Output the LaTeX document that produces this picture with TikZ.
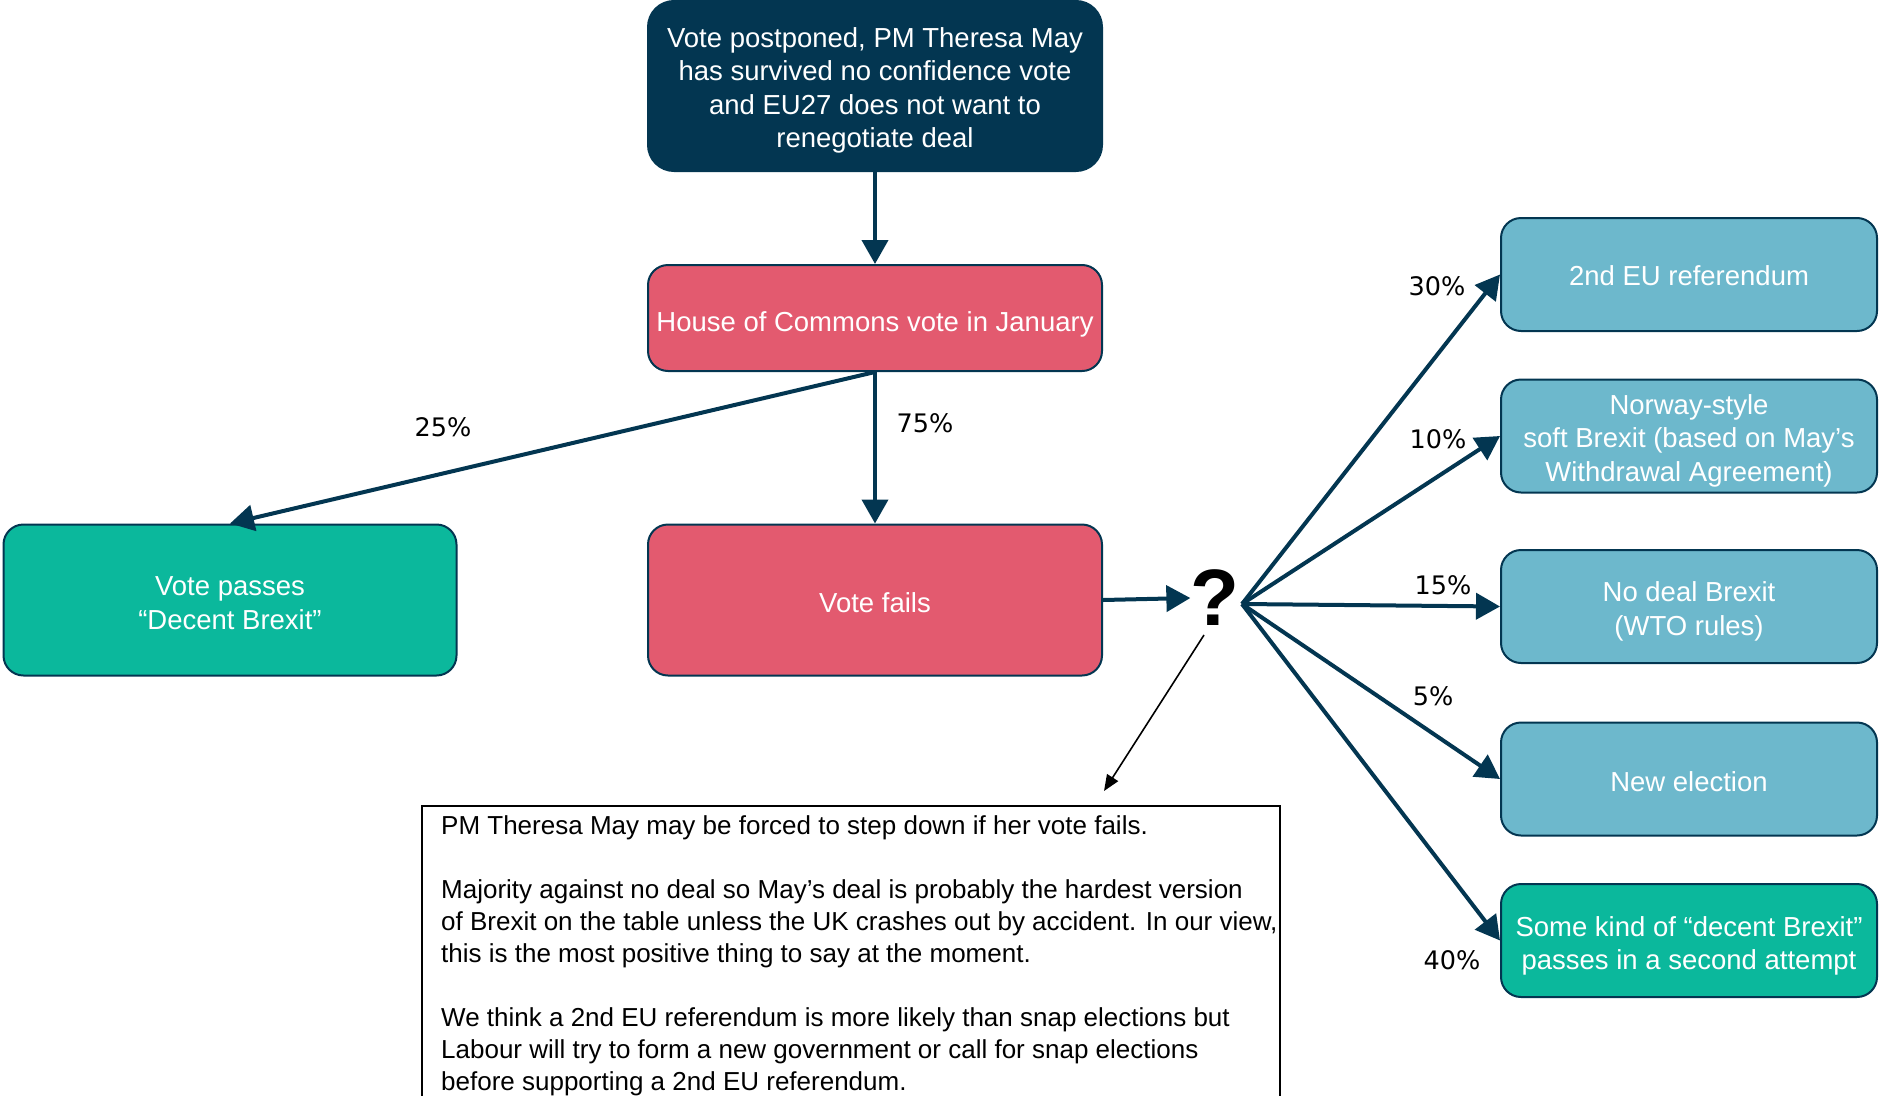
\documentclass[tikz,border=0pt]{standalone}
\usepackage{fontspec}
\setmainfont{Liberation Sans}
\newfontfamily\pctfont{DejaVu Sans}
\usetikzlibrary{arrows.meta}
\definecolor{navy}{HTML}{033651}
\definecolor{pinkred}{HTML}{E35A6F}
\definecolor{tealg}{HTML}{0BB89C}
\definecolor{lblue}{HTML}{6DB8CC}
\tikzset{
  box/.style={draw=navy, line width=2pt, rounded corners=20pt, text=white, align=center,
    font=\fontsize{27.5}{33.5}\selectfont, inner sep=0pt},
  conn/.style={draw=navy, line width=4pt, -{Triangle[length=24pt,width=26pt]}},
  thinarr/.style={draw=black, line width=1.6pt, -{Triangle[length=16pt,width=13pt]}},
  pct/.style={font=\pctfont\fontsize{25.5}{30}\selectfont, text=black},
}
\begin{document}
\begin{tikzpicture}[x=1pt,y=-1pt]
\useasboundingbox (0,0) rectangle (1879,1095);
\node[box, fill=navy, rounded corners=26pt, minimum width=454pt, minimum height=170pt] (top) at (875,86)
  {Vote postponed, PM Theresa May\\has survived no confidence vote\\and EU27 does not want to\\renegotiate deal\\[-36.8pt]};
\node[box, fill=pinkred, minimum width=454pt, minimum height=106pt, text height=26pt, text depth=0pt] (hoc) at (875,318) {House of Commons vote in January};
\node[box, fill=tealg, minimum width=453pt, minimum height=151pt] (vp) at (230,600) {Vote passes\\“Decent Brexit”\\[-39.5pt]};
\node[box, fill=pinkred, minimum width=454pt, minimum height=151pt, text height=24.8pt, text depth=0pt] (vf) at (875,600) {Vote fails};
\node[font=\bfseries\fontsize{80}{80}\selectfont, inner sep=0pt] (q) at (1215,598) {?};
\node[box, fill=lblue, minimum width=376pt, minimum height=113pt, text height=22.4pt, text depth=0pt] (r1) at (1689,274.5) {2nd EU referendum};
\node[box, fill=lblue, minimum width=376pt, minimum height=113pt] (r2) at (1689,436) {Norway-style\\soft Brexit (based on May’s\\Withdrawal Agreement)\\[-37.1pt]};
\node[box, fill=lblue, minimum width=376pt, minimum height=113pt] (r3) at (1689,606.5) {No deal Brexit\\(WTO rules)\\[-37.1pt]};
\node[box, fill=lblue, minimum width=376pt, minimum height=113pt, text height=24.4pt, text depth=0pt] (r4) at (1689,779) {New election};
\node[box, fill=tealg, minimum width=376pt, minimum height=113pt] (r5) at (1689,940.5) {Some kind of “decent Brexit”\\passes in a second attempt\\[-38.5pt]};

\coordinate (qs) at (1242,604);
\coordinate (ns) at (1204,635);
\coordinate (ne) at (1104,791);

\draw[conn] (top) -- (hoc);
\draw[conn] (hoc.south) -- (vp.north);
\draw[conn] (hoc.south) -- (vf.north);
\draw[conn] (vf.east) -- (q.west);
\draw[conn] (qs) -- (r1.west);
\draw[conn] (qs) -- (r2.west);
\draw[conn] (qs) -- (r3.west);
\draw[conn] (qs) -- (r4.west);
\draw[conn] (qs) -- (r5.west);
\draw[thinarr] (ns) -- (ne);

\node[pct] (p25) at (443,427) {25\%};
\node[pct] (p75) at (925,423) {75\%};
\node[pct] (p30) at (1437,286) {30\%};
\node[pct] (p10) at (1438,439) {10\%};
\node[pct] (p15) at (1443,585) {15\%};
\node[pct] (p5) at (1433,696) {5\%};
\node[pct] (p40) at (1452,960) {40\%};

\draw[black, line width=1.6pt] (422,1110) -- (422,806) -- (1280,806) -- (1280,1110);
\node[anchor=north west, align=left, inner sep=0pt, font=\fontsize{26}{32}\selectfont] (note) at (441,815)
 {PM Theresa May may be forced to step down if her vote fails.\\[32pt]
  Majority against no deal so May’s deal is probably the hardest version\\
  of Brexit on the table unless the UK crashes out by accident. In our view,\\
  this is the most positive thing to say at the moment.\\[32pt]
  We think a 2nd EU referendum is more likely than snap elections but\\
  Labour will try to form a new government or call for snap elections\\
  before supporting a 2nd EU referendum.};
\end{tikzpicture}
\end{document}
